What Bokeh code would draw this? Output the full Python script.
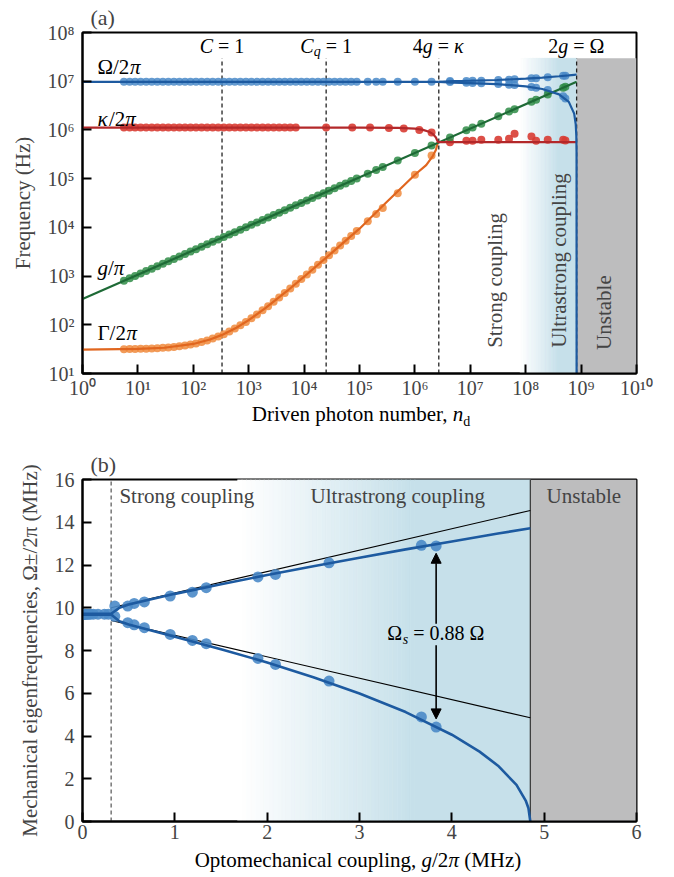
import numpy as np
from bokeh.plotting import figure
from bokeh.models import Range1d, FixedTicker, Label, Arrow, NormalHead, Div
from bokeh.layouts import column
from bokeh.embed import file_html
from bokeh.resources import INLINE

FONT = "'Liberation Serif', 'Times New Roman', serif"

# ---------------- panel (a) data ----------------
n_dense = [5.6, 7.1, 8.9, 11.2, 14.1, 17.8, 22.4, 28.2, 35.5, 44.7, 56.2, 70.8, 89.1,
           112, 141, 178, 224, 282, 355, 447, 562, 708, 891, 1120, 1410, 1780, 2240,
           2820, 3550, 4470, 5620, 7080, 8910, 11200, 14100, 17800, 22400, 28200,
           35500, 44700, 56200, 70800, 89100]
n_mid = [1.41e5, 2.0e5, 2.63e5, 4.9e5, 1.0e6, 2.0e6]
n_split = [4.3e6, 8.5e6, 1.1e7, 1.58e7, 3.2e7, 5.0e7, 6.3e7, 1.27e8, 1.54e8, 2.5e8, 4.75e8, 5.2e8]

omega_dense = [9.7e6, 9.7e6, 9.7e6, 9.7e6, 9.7e6, 9.7e6, 9.7e6, 9.7e6, 9.7e6, 9.7e6,
               9.7e6, 9.7e6, 9.7e6, 9.7e6, 9.7e6, 9.7e6, 9.7e6, 9.7e6, 9.7e6, 9.7e6,
               9.7e6, 9.7e6, 9.7e6, 9.7e6, 9.7e6, 9.7e6, 9.7e6, 9.7e6, 9.7e6, 9.7e6,
               9.7e6, 9.7e6, 9.7e6, 9.7e6, 9.7e6, 9.7e6, 9.7e6, 9.7e6, 9.7e6, 9.7e6,
               9.7e6, 9.7e6, 9.7e6]
omega_mid = [9.7e6, 9.7e6, 9.7e6, 9.7e6, 9.7e6, 9.7e6]
omega_up_a = [1.008e7, 1.008e7, 1.02e7, 1.027e7, 1.055e7, 1.073e7, 1.094e7, 1.144e7, 1.156e7, 1.21e7, 1.292e7, 1.289e7]
omega_lo_a = [9.6e6, 9.3e6, 9.2e6, 9.07e6, 8.75e6, 8.47e6, 8.32e6, 7.63e6, 7.35e6, 6.57e6, 4.89e6, 4.42e6]

gpi_dense = [797, 897, 1004, 1127, 1264, 1420, 1594, 1788, 2006, 2251, 2524, 2833, 3178,
             3563, 3998, 4492, 5039, 5654, 6344, 7119, 7982, 8959, 10050, 11270, 12640,
             14210, 15940, 17880, 20060, 22510, 25240, 28330, 31780, 35630, 39980, 44920,
             50390, 56540, 63440, 71190, 79820, 89590, 100500]
gpi_mid = [1.264e5, 1.506e5, 1.727e5, 2.357e5, 3.367e5, 4.762e5]
gpi_split = [6.98e5, 9.82e5, 1.117e6, 1.338e6, 1.905e6, 2.381e6, 2.672e6, 3.794e6, 4.178e6, 5.324e6, 7.338e6, 7.678e6]

gamma_dense = [31.5, 31.7, 31.8, 32.1, 32.3, 32.7, 33.1, 33.6, 34.3, 35.2, 36.3, 37.7, 39.4,
               41.5, 44.2, 47.7, 52, 57.5, 64.3, 73, 83.8, 97.5, 114.7, 136, 163, 198, 241,
               296, 364, 451, 559, 696, 868, 1083, 1355, 1703, 2135, 2680, 3366, 4230, 5310,
               6680, 8400]
gamma_mid = [13300, 18800, 25000, 50000, 1.2e5, 3.0e5]

n_kappa_dense = [5.6, 7.1, 8.9, 11.2, 14.1, 17.8, 22.4, 28.2, 35.5, 44.7, 56.2, 70.8, 89.1,
                 112, 141, 178, 224, 282, 355, 447, 562, 708, 891, 1120, 1410, 1780, 2240,
                 2820, 3550, 4470, 5620, 7080]
kappa_dense = [1.12e6, 1.12e6, 1.12e6, 1.12e6, 1.12e6, 1.12e6, 1.12e6, 1.12e6, 1.12e6, 1.12e6,
               1.12e6, 1.12e6, 1.12e6, 1.12e6, 1.12e6, 1.12e6, 1.12e6, 1.12e6, 1.12e6, 1.12e6,
               1.12e6, 1.12e6, 1.12e6, 1.12e6, 1.12e6, 1.12e6, 1.12e6, 1.12e6, 1.12e6, 1.12e6,
               1.12e6, 1.12e6]
n_kappa_pre = [2.5e4, 7.4e4, 1.55e5, 3.4e5, 6.3e5, 1.2e6, 2.0e6]
kappa_pre = [1.12e6, 1.12e6, 1.12e6, 1.1e6, 1.07e6, 1.0e6, 8.9e5]
kappa_post = [5.6e5, 6.0e5, 6.0e5, 6.3e5, 6.3e5, 6.6e5, 8.3e5, 7.3e5, 6.0e5, 6.3e5, 6.3e5, 6.1e5]

# fitted curves
n_om_flat = [1, 2.7e6]
om_flat = [9.7e6, 9.7e6]
n_om_up = [2.7e6, 5e6, 1e7, 3e7, 1e8, 2e8, 4e8, 6e8, 7.5e8, 8.3e8]
om_up = [9.7e6, 1.007e7, 1.022e7, 1.058e7, 1.126e7, 1.185e7, 1.263e7, 1.319e7, 1.355e7, 1.372e7]
n_om_lo = [2.7e6, 5e6, 1e7, 3e7, 1e8, 2e8, 4e8, 6e8, 7.5e8, 8.0e8, 8.2e8, 8.28e8, 8.3e8]
om_lo = [9.7e6, 9.31e6, 9.15e6, 8.73e6, 7.84e6, 6.92e6, 5.37e6, 3.76e6, 2.16e6, 1.31e6, 7.5e5, 3.4e5, 1]
n_g_line = [1, 8.3e8]
g_line = [337, 9.7e6]
n_k_line = [1, 1e5, 5e5, 1e6, 1.4e6, 1.8e6, 2.1e6, 2.4e6, 2.6e6, 8.3e8]
k_line = [1.12e6, 1.12e6, 1.1e6, 1.06e6, 1.0e6, 9.2e5, 8.3e5, 7.0e5, 5.6e5, 5.6e5]
n_G_line = [1, 10, 30, 100, 200, 330, 600, 1000, 2000, 5000, 1e4, 3e4, 1e5, 3e5, 1e6, 1.6e6, 2.1e6, 2.4e6, 2.6e6]
G_line = [31, 32, 33.8, 40.4, 49.8, 62, 87, 125, 219, 500, 970, 2850, 9400, 3.2e4, 1.2e5, 1.9e5, 2.9e5, 3.9e5, 5.6e5]

# regime markers (a)
n_marks = [330, 2.5e4, 2.7e6, 8.3e8]
x_ticks_a = [1e0, 1e1, 1e2, 1e3, 1e4, 1e5, 1e6, 1e7, 1e8, 1e9, 1e10]
x_tick_labels_a = ["10⁰", "10¹", "10²", "10³", "10⁴", "10⁵", "10⁶", "10⁷", "10⁸", "10⁹", "10¹⁰"]
y_ticks_a = [1e1, 1e2, 1e3, 1e4, 1e5, 1e6, 1e7, 1e8]
y_tick_labels_a = ["10¹", "10²", "10³", "10⁴", "10⁵", "10⁶", "10⁷", "10⁸"]

# ---------------- panel (b) data ----------------
g_cluster = [0.0004, 0.001, 0.002, 0.004, 0.006, 0.01, 0.015, 0.02, 0.03, 0.04, 0.053,
             0.07, 0.086, 0.118, 0.168, 0.238, 0.28]
w_cluster = [9.7, 9.7, 9.7, 9.7, 9.7, 9.7, 9.7, 9.7, 9.7, 9.7, 9.7, 9.7, 9.7, 9.7, 9.7, 9.7, 9.7]
g_split = [0.35, 0.49, 0.56, 0.67, 0.95, 1.19, 1.34, 1.9, 2.09, 2.67, 3.67, 3.83]
w_up = [10.08, 10.08, 10.2, 10.27, 10.55, 10.73, 10.94, 11.44, 11.56, 12.1, 12.92, 12.89]
w_lo = [9.6, 9.3, 9.2, 9.07, 8.75, 8.47, 8.32, 7.63, 7.35, 6.57, 4.89, 4.42]
g_up_curve = [0, 0.31, 0.4, 0.5, 1.0, 1.5, 2.0, 2.5, 3.0, 3.5, 4.0, 4.5, 4.85]
w_up_curve = [9.72, 9.72, 10.0, 10.15, 10.65, 11.10, 11.53, 11.94, 12.34, 12.73, 13.10, 13.47, 13.72]
g_lo_curve = [0, 0.31, 0.4, 0.5, 1.0, 1.5, 2.0, 2.5, 3.0, 3.5, 4.0, 4.3, 4.5, 4.7, 4.8, 4.83, 4.85]
w_lo_curve = [9.68, 9.68, 9.37, 9.22, 8.64, 8.06, 7.44, 6.75, 5.99, 5.12, 4.06, 3.27, 2.61, 1.71, 0.98, 0.62, 0.0]
g_lin = [0.31, 4.85]
w_lin_up = [10.0, 14.55]
w_lin_lo = [9.4, 4.85]
g_strong = 0.31
g_unstable = 4.85
arrow_g = 3.83
arrow_up = (9.25, 12.55)
arrow_lo = (8.25, 4.8)

# ---------------- styling ----------------
BLUE_L, BLUE_M = "#1d5aa0", "#4a89c8"
RED_L, RED_M = "#b3282a", "#d83c33"
GREEN_L, GREEN_M = "#1e6a36", "#2f8c47"
ORANGE_L, ORANGE_M = "#e0661f", "#f08a3c"
GRAY = "#bdbdbe"
SHADE = (198, 224, 234)
CW = {' ': 0.25, '=': 0.564, '.': 0.25, '/': 0.278, ',': 0.25, '(': 0.333, ')': 0.333,
      'C': 0.667, 'D': 0.722, 'M': 0.889, 'H': 0.722, 'O': 0.722, 'Ω': 0.77, 'Γ': 0.61,
      'κ': 0.55, 'π': 0.55, 'm': 0.778, 'r': 0.333, 'i': 0.278, 'l': 0.278, 't': 0.278,
      'e': 0.444, 'c': 0.444, 'a': 0.444, 's': 0.389, 'z': 0.444}


def tw(t, s):
    return sum(CW.get(ch, 0.5) for ch in t) * s


def pieces(p, x, y, parts, align="center"):
    widths = [tw(t, s) for t, it, s, dy in parts]
    cur = -sum(widths) / 2 if align == "center" else 0
    for (t, it, s, dy), w in zip(parts, widths):
        lead = len(t) - len(t.lstrip(' '))
        p.add_layout(Label(x=x, y=y, x_offset=cur + lead * 0.25 * s, y_offset=dy, text=t.strip(),
                           text_font=FONT, text_font_size=f"{s}px",
                           text_font_style="italic" if it else "normal",
                           text_align="left", text_baseline="middle", text_color="black"))
        cur += w


def style_axes(p):
    p.grid.visible = False
    p.outline_line_color = "black"
    p.outline_line_width = 2
    for ax in (p.xaxis[0], p.yaxis[0]):
        ax.axis_line_width = 2
        ax.major_tick_in = 9
        ax.major_tick_out = 0
        ax.major_tick_line_width = 2
        ax.minor_tick_line_color = None
        ax.major_label_text_font = FONT
        ax.major_label_text_font_size = "20px"
        ax.major_label_standoff = 8
        ax.axis_label_text_font = FONT
        ax.axis_label_text_font_size = "21px"
        ax.axis_label_text_font_style = "normal"
    p.xaxis.major_label_standoff = 3
    p.title.text_font = FONT
    p.title.text_font_size = "22px"
    p.title.text_font_style = "normal"
    p.title.align = "left"
    p.title.offset = 8
    p.title.standoff = 5


def lerp_colors(k):
    out = []
    for t in np.linspace(0, 1, k):
        c = [int(round(255 + (v - 255) * t)) for v in SHADE]
        out.append("#%02x%02x%02x" % tuple(c))
    return out


def axis_div(html, center_x, height, top):
    ml = 2 * center_x - 674
    style = ("margin-left:%dpx;width:%dpx;text-align:center;margin-top:%dpx;line-height:22px;"
             "font-family:'Liberation Serif','Times New Roman',serif;font-size:21px;color:black;"
             "white-space:nowrap" % (ml, 674 - ml, top))
    return Div(text='<div style="%s">%s</div>' % (style, html), width=674, height=height, margin=0)


# ================= panel (a) =================
pa = figure(width=674, height=401, x_axis_type="log", y_axis_type="log",
            x_range=Range1d(1, 1e10), y_range=Range1d(10, 1e8), title="(a)",
            output_backend="svg", toolbar_location=None,
            min_border_left=82, min_border_right=38, min_border_top=32, min_border_bottom=28,
            background_fill_color="white", border_fill_color="white")
style_axes(pa)
pa.xaxis.ticker = FixedTicker(ticks=x_ticks_a)
pa.xaxis.major_label_overrides = dict(zip(x_ticks_a, x_tick_labels_a))
pa.yaxis.ticker = FixedTicker(ticks=y_ticks_a)
pa.yaxis.major_label_overrides = dict(zip(y_ticks_a, y_tick_labels_a))
pa.yaxis.axis_label = "Frequency (Hz)"
pa.yaxis.axis_label_standoff = 10

shade_top_a = 2.95e7
edges = np.linspace(7.9, 8.6, 41)
cols = lerp_colors(40)
pa.quad(left=10 ** edges[:-1], right=10 ** edges[1:], bottom=10, top=shade_top_a,
        fill_color=cols, line_color=cols, line_width=0.6)
pa.quad(left=[10 ** 8.6], right=[n_marks[3]], bottom=10, top=shade_top_a,
        fill_color=cols[-1], line_color=cols[-1], line_width=0.6)
pa.quad(left=[n_marks[3]], right=[1e10], bottom=10, top=shade_top_a,
        fill_color=GRAY, line_color=None)
pa.segment(x0=n_marks, x1=n_marks, y0=10, y1=shade_top_a, line_color="#222222",
           line_width=1.3, line_dash="4 3")

ms = 8
pa.scatter(n_dense + n_mid, omega_dense + omega_mid, size=ms, fill_color=BLUE_M, fill_alpha=0.85, line_color=None)
pa.scatter(n_split, omega_up_a, size=ms, fill_color=BLUE_M, fill_alpha=0.85, line_color=None)
pa.scatter(n_split, omega_lo_a, size=ms, fill_color=BLUE_M, fill_alpha=0.85, line_color=None)
pa.scatter(n_kappa_dense + n_kappa_pre + n_split, kappa_dense + kappa_pre + kappa_post,
           size=ms, fill_color=RED_M, fill_alpha=0.9, line_color=None)
pa.scatter(n_dense + n_mid + n_split, gpi_dense + gpi_mid + gpi_split, size=ms,
           fill_color=GREEN_M, fill_alpha=0.85, line_color=None)
pa.scatter(n_dense + n_mid, gamma_dense + gamma_mid, size=ms, fill_color=ORANGE_M,
           fill_alpha=0.85, line_color=None)

lw = 2.2
pa.line(n_G_line, G_line, line_color=ORANGE_L, line_width=lw)
pa.line(n_g_line, g_line, line_color=GREEN_L, line_width=lw)
pa.line(n_k_line, k_line, line_color=RED_L, line_width=lw)
pa.line(n_om_flat, om_flat, line_color=BLUE_L, line_width=lw)
pa.line(n_om_up, om_up, line_color=BLUE_L, line_width=lw)
pa.line(n_om_lo, om_lo, line_color=BLUE_L, line_width=lw)

lab_y = 5.4e7
pieces(pa, n_marks[0], lab_y, [("C", True, 20, 0), (" = 1", False, 20, 0)])
pieces(pa, n_marks[1], lab_y, [("C", True, 20, 0), ("q", True, 14, -6), (" = 1", False, 20, 0)])
pieces(pa, n_marks[2], lab_y, [("4", False, 20, 0), ("g", True, 20, 0), (" = ", False, 20, 0), ("κ", True, 20, 0)])
pieces(pa, n_marks[3], lab_y, [("2", False, 20, 0), ("g", True, 20, 0), (" = Ω", False, 20, 0)])
lx = 1.86
pieces(pa, lx, 2.0e7, [("Ω/2", False, 21, 0), ("π", True, 21, 0)], align="left")
pieces(pa, lx, 1.7e6, [("κ", True, 21, 0), ("/2", False, 21, 0), ("π", True, 21, 0)], align="left")
pieces(pa, lx, 1480, [("g", True, 21, 0), ("/", False, 21, 0), ("π", True, 21, 0)], align="left")
pieces(pa, lx, 69, [("Γ/2", False, 21, 0), ("π", True, 21, 0)], align="left")
for txt, xx, yy in [("Strong coupling", 10 ** 7.44, 10 ** 2.91),
                    ("Ultrastrong coupling", 10 ** 8.6, 10 ** 3.32),
                    ("Unstable", 10 ** 9.42, 10 ** 2.25)]:
    pa.add_layout(Label(x=xx, y=yy, text=txt, angle=np.pi / 2, angle_units="rad",
                        text_font=FONT, text_font_size="21px", text_align="center",
                        text_baseline="middle"))

div_xa = axis_div('Driven photon number, <i>n</i><sub style="font-size:14px;line-height:0">d</sub>',
                  361, 29, 2)

# ================= panel (b) =================
pb = figure(width=674, height=419, x_range=Range1d(0, 6), y_range=Range1d(0, 16), title="(b)",
            output_backend="svg", toolbar_location=None,
            min_border_left=82, min_border_right=38, min_border_top=49, min_border_bottom=28,
            background_fill_color="white", border_fill_color="white")
style_axes(pb)
pb.xaxis.ticker = FixedTicker(ticks=[0, 1, 2, 3, 4, 5, 6])
pb.yaxis.ticker = FixedTicker(ticks=[0, 2, 4, 6, 8, 10, 12, 14, 16])
pb.yaxis.axis_label = "Mechanical eigenfrequencies, Ω±/2π (MHz)"
pb.yaxis.axis_label_standoff = 10

gedges = np.linspace(1.68, 3.6, 41)
pb.quad(left=gedges[:-1], right=gedges[1:], bottom=0, top=16, fill_color=cols, line_color=cols, line_width=0.6)
pb.quad(left=[3.6], right=[g_unstable], bottom=0, top=16, fill_color=cols[-1], line_color=cols[-1], line_width=0.6)
pb.quad(left=[g_unstable], right=[6], bottom=0, top=16, fill_color=GRAY, line_color=None)
pb.segment(x0=[g_unstable], x1=[g_unstable], y0=0, y1=16, line_color="#333333", line_width=1.2)
pb.segment(x0=[g_strong], x1=[g_strong], y0=0, y1=16, line_color="#444444", line_width=1.1, line_dash="4 3")

pb.line(g_lin, w_lin_up, line_color="black", line_width=1.1)
pb.line(g_lin, w_lin_lo, line_color="black", line_width=1.1)
msb = 11
pb.scatter(g_cluster, w_cluster, size=msb, fill_color=BLUE_M, fill_alpha=0.9, line_color=None)
pb.scatter(g_split, w_up, size=msb, fill_color=BLUE_M, fill_alpha=0.9, line_color=None)
pb.scatter(g_split, w_lo, size=msb, fill_color=BLUE_M, fill_alpha=0.9, line_color=None)
pb.line(g_up_curve, w_up_curve, line_color=BLUE_L, line_width=2.6)
pb.line(g_lo_curve, w_lo_curve, line_color=BLUE_L, line_width=2.6)

head = dict(size=10, fill_color="black", line_color="black")
pb.add_layout(Arrow(end=NormalHead(**head), x_start=arrow_g, y_start=arrow_up[0],
                    x_end=arrow_g, y_end=arrow_up[1], line_width=1.6, line_color="black"))
pb.add_layout(Arrow(end=NormalHead(**head), x_start=arrow_g, y_start=arrow_lo[0],
                    x_end=arrow_g, y_end=arrow_lo[1], line_width=1.6, line_color="black"))

for txt, xx, al in [("Strong coupling", 0.4, "left"), ("Ultrastrong coupling", 2.47, "left"),
                    ("Unstable", 5.43, "center")]:
    pb.add_layout(Label(x=xx, y=15.25, text=txt, text_font=FONT, text_font_size="21px",
                        text_align=al, text_baseline="middle"))
pieces(pb, arrow_g, 8.8, [("Ω", False, 20, 0), ("s", True, 14, -6), (" = 0.88 Ω", False, 20, 0)])

div_xb = axis_div('Optomechanical coupling, <i>g</i>/2<i>π</i> (MHz)', 358, 28, 0)

layout = column(pa, div_xa, pb, div_xb)
open("out.html", "w").write(file_html(layout, INLINE))
